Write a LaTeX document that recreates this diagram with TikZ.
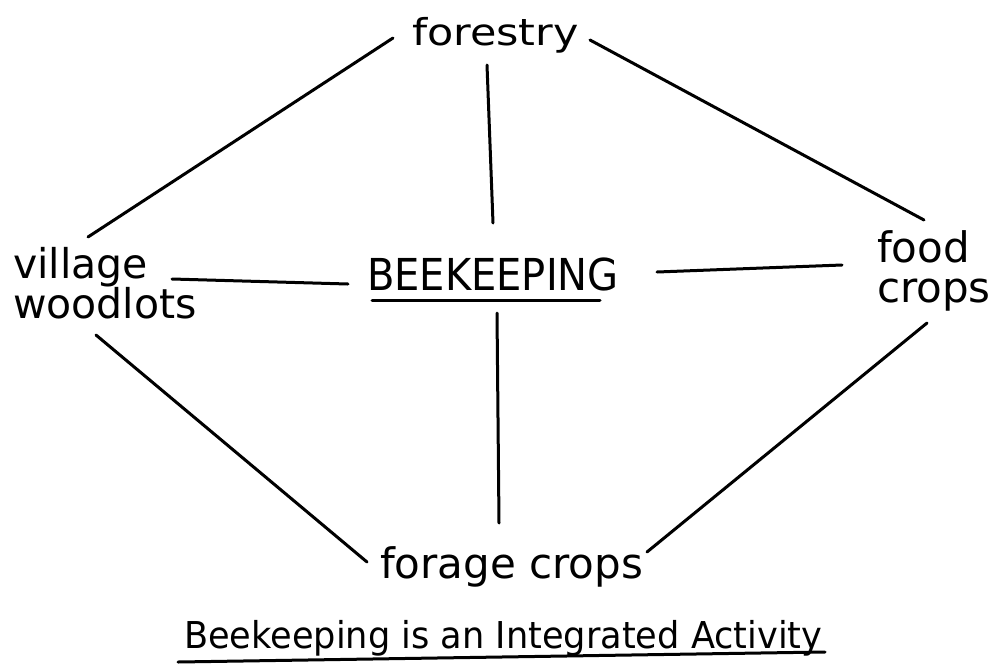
\documentclass[tikz,border=0pt]{standalone}
\usepackage{graphicx}
\usepackage{fontspec}
\setmainfont{DejaVu Sans}
\begin{document}
\begin{tikzpicture}[x=1pt,y=-1pt,
  lbl/.style={inner sep=0pt, outer sep=0pt, align=left, text=black},
  conn/.style={draw=black, line width=3pt, line cap=round}]
\useasboundingbox (0,0) rectangle (1002,665);
\node[lbl, anchor=base west, font=\fontsize{37}{40}\selectfont] (forestry) at (412,45) {\scalebox{1.16}[1]{forestry}};
\node[lbl, anchor=north west, font=\fontsize{41}{40}\selectfont] (village) at (13,247) {village\\woodlots};
\node[lbl, anchor=base west, font=\fontsize{44}{46}\selectfont] (bee) at (367,290) {\scalebox{0.91}[1]{BEEKEEPING}};
\node[lbl, anchor=north west, font=\fontsize{42}{40}\selectfont] (food) at (877,231) {food\\crops};
\node[lbl, anchor=base west, font=\fontsize{42}{44}\selectfont] (forage) at (380,578) {forage crops};
\node[lbl, anchor=base west, font=\fontsize{37}{40}\selectfont] (caption) at (184,648) {\scalebox{0.95}[1]{Beekeeping is an Integrated Activity}};
% underlines
\draw[conn] ([shift={(5,10)}]bee.base west) -- ([shift={(233,10)}]bee.base west);
\draw[conn] ([shift={(-6,14)}]caption.base west) -- ([shift={(641,4)}]caption.base west);
% connectors
\draw[conn] ([shift={(-19,-7)}]forestry.base west) -- ([shift={(75,-10)}]village.north west);
\draw[conn] ([shift={(178,-5)}]forestry.base west) -- ([shift={(47,-11)}]food.north west);
\draw[conn] ([shift={(75,20)}]forestry.base west) -- ([shift={(126,-67)}]bee.base west);
\draw[conn] ([shift={(159,32)}]village.north west) -- ([shift={(-19,-6)}]bee.base west);
\draw[conn] ([shift={(290,-18)}]bee.base west) -- ([shift={(-35,34)}]food.north west);
\draw[conn] ([shift={(130,23)}]bee.base west) -- ([shift={(119,-55)}]forage.base west);
\draw[conn] ([shift={(83,88)}]village.north west) -- ([shift={(-13,-16)}]forage.base west);
\draw[conn] ([shift={(267,-26)}]forage.base west) -- ([shift={(50,92)}]food.north west);
\end{tikzpicture}
\end{document}
